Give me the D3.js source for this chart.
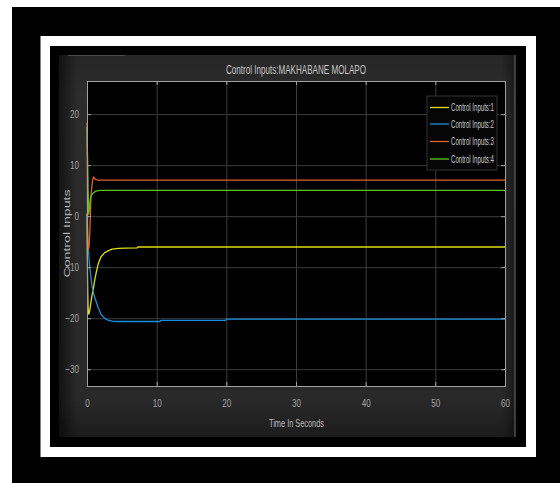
<!DOCTYPE html>
<html>
<head>
<meta charset="utf-8">
<script src="https://cdn.jsdelivr.net/npm/d3@7"></script>
<style>
  body { margin: 0; background: #fff; }
  text { font-family: "Liberation Sans Narrow", "Liberation Sans", Arial, sans-serif; }
</style>
</head>
<body>
<div id="chart"></div>
<script>
// time axis (seconds), shared by all four signals
const time = [0, 0.05, 0.1, 0.15, 0.2, 0.25, 0.3, 0.4, 0.5, 0.6, 0.7, 0.8, 0.95, 1.1, 1.3, 1.6,
  2, 2.5, 3, 3.6, 4.5, 5.5, 7.2, 7.3, 10.5, 10.6, 19.9, 20, 60];

const input1 = [0.5, -8, -14, -17.5, -18.9, -19.2, -19.1, -18.4, -17.5, -16.6, -15.7, -14.9, -13.9, -12.6,
  -11.2, -9.4, -8.0, -7.2, -6.8, -6.45, -6.3, -6.25, -6.22, -6.05, -6.05, -6.05, -6.05, -6.05, -6.05];
const input2 = [0, -1.8, -3.5, -5.1, -6.5, -7.6, -8.5, -10, -11.2, -12.4, -13.5, -14.3, -15.2, -15.9,
  -16.7, -17.9, -19.2, -20, -20.4, -20.6, -20.65, -20.65, -20.65, -20.65, -20.65, -20.45, -20.45, -20.2, -20.2];
const input3 = [18.3, 6, -3, -6.3, -6.5, -6.3, -6.0, -3.5, 1.0, 4.5, 5.9, 7.0, 7.7, 7.4, 7.15, 7.08,
  7.07, 7.07, 7.07, 7.07, 7.07, 7.07, 7.07, 7.07, 7.07, 7.07, 7.07, 7.07, 7.07];
const input4 = [17.5, 13, 10.5, 6, 2.2, 0.4, 0.9, 2.6, 3.6, 4.0, 4.3, 4.45, 4.6, 4.75, 4.9, 5.0,
  5.05, 5.06, 5.06, 5.06, 5.06, 5.06, 5.06, 5.06, 5.06, 5.06, 5.06, 5.06, 5.06];

const seriesNames = ["Control Inputs:1", "Control Inputs:2", "Control Inputs:3", "Control Inputs:4"];
const seriesColors = ["#dede10", "#1a8fe0", "#e0602a", "#5cc414"];
const xTicks = [0, 10, 20, 30, 40, 50, 60];
const yTicks = [-30, -20, -10, 0, 10, 20];

const width = 560, height = 483;
const margin = { top: 81, right: 55, bottom: 97, left: 87 };
const pw = width - margin.left - margin.right,
  ph = height - margin.top - margin.bottom;

const svg = d3.select("#chart").append("svg")
  .attr("width", width).attr("height", height);

// frames around the figure
svg.append("rect").attr("x", 12).attr("y", 7).attr("width", 548).attr("height", 476).attr("fill", "#000");
svg.append("rect").attr("x", 40.5).attr("y", 36).attr("width", 495.5).attr("height", 421).attr("fill", "#fff");
svg.append("rect").attr("x", 50).attr("y", 46).attr("width", 476).attr("height", 401).attr("fill", "#000");

const defs = svg.append("defs");
const gv = defs.append("linearGradient").attr("id", "figV").attr("x1", 0).attr("y1", 0).attr("x2", 0).attr("y2", 1);
gv.append("stop").attr("offset", "0%").attr("stop-color", "#262626");
gv.append("stop").attr("offset", "10%").attr("stop-color", "#2c2c2c");
gv.append("stop").attr("offset", "90%").attr("stop-color", "#292929");
gv.append("stop").attr("offset", "100%").attr("stop-color", "#1c1c1c");
const gh = defs.append("linearGradient").attr("id", "figH").attr("x1", 0).attr("y1", 0).attr("x2", 1).attr("y2", 0);
gh.append("stop").attr("offset", "0%").attr("stop-color", "#000").attr("stop-opacity", 0.55);
gh.append("stop").attr("offset", "4%").attr("stop-color", "#000").attr("stop-opacity", 0);
gh.append("stop").attr("offset", "97%").attr("stop-color", "#000").attr("stop-opacity", 0);
gh.append("stop").attr("offset", "100%").attr("stop-color", "#000").attr("stop-opacity", 0.4);

svg.append("rect").attr("x", 59).attr("y", 55).attr("width", 456.5).attr("height", 382).attr("fill", "url(#figV)");
svg.append("rect").attr("x", 59).attr("y", 55).attr("width", 456.5).attr("height", 382).attr("fill", "url(#figH)");
svg.append("line").attr("x1", 515).attr("x2", 515).attr("y1", 55).attr("y2", 437)
  .attr("stroke", "#6a6a6a").attr("stroke-width", 1);
svg.append("line").attr("x1", 68).attr("x2", 125).attr("y1", 55.5).attr("y2", 55.5)
  .attr("stroke", "#4a4a4a").attr("stroke-width", 1);

const g = svg.append("g").attr("transform", `translate(${margin.left},${margin.top})`);

const x = d3.scaleLinear().domain([0, 60]).range([0, pw]);
const y = d3.scaleLinear().domain([-33.3, 26.5]).range([ph, 0]);

g.append("rect").attr("width", pw).attr("height", ph).attr("fill", "#000");

// grid
g.append("g").attr("class", "grid").attr("transform", `translate(0,${ph})`)
  .call(d3.axisBottom(x).tickValues(xTicks).tickSize(-ph).tickFormat(""));
g.append("g").attr("class", "grid")
  .call(d3.axisLeft(y).tickValues(yTicks).tickSize(-pw).tickFormat(""));
g.selectAll(".grid .domain").remove();
g.selectAll(".grid line").attr("stroke", "#3c3c3c").attr("stroke-width", 1);

// lines
const line = d3.line()
  .x((d, i) => x(time[i]))
  .y(d => y(d));

[input1, input2, input3, input4].forEach((vals, k) => {
  g.append("path")
    .datum(vals)
    .attr("d", line)
    .attr("fill", "none")
    .attr("stroke", seriesColors[k])
    .attr("stroke-width", 1.3)
    .attr("stroke-linejoin", "round");
});

// box + inward ticks
const axColor = "#a0a0a0";
g.append("g").attr("transform", `translate(0,${ph})`)
  .call(d3.axisBottom(x).tickValues(xTicks).tickSize(-4).tickPadding(13));
g.append("g")
  .call(d3.axisLeft(y).tickValues(yTicks).tickSize(-4).tickPadding(8));
g.append("g").call(d3.axisTop(x).tickValues(xTicks).tickSize(-4).tickFormat(""));
g.append("g").attr("transform", `translate(${pw},0)`)
  .call(d3.axisRight(y).tickValues(yTicks).tickSize(-4).tickFormat(""));
g.selectAll(".domain").attr("stroke", axColor).attr("stroke-width", 1);
g.selectAll(".tick line").filter(function () { return !this.closest(".grid"); })
  .attr("stroke", axColor);

g.selectAll(".tick text")
  .attr("fill", "#a4a4a4")
  .style("font-size", "11.5px")
  .each(function () {
    const w = this.getComputedTextLength();
    d3.select(this).attr("textLength", w * 0.7).attr("lengthAdjust", "spacingAndGlyphs");
  });

// title & labels
svg.append("text")
  .attr("x", 296).attr("y", 74)
  .attr("text-anchor", "middle")
  .attr("fill", "#c4c4c4")
  .style("font-size", "13px")
  .attr("textLength", 140).attr("lengthAdjust", "spacingAndGlyphs")
  .text("Control Inputs:MAKHABANE MOLAPO");

svg.append("text")
  .attr("x", 296.5).attr("y", 427)
  .attr("text-anchor", "middle")
  .attr("fill", "#bcbcbc")
  .style("font-size", "11.5px")
  .attr("textLength", 55).attr("lengthAdjust", "spacingAndGlyphs")
  .text("Time In Seconds");

svg.append("text")
  .attr("transform", "translate(70,233.5) scale(0.72,1) rotate(-90)")
  .attr("text-anchor", "middle")
  .attr("fill", "#b0b0b0")
  .style("font-size", "11.5px")
  .style("font-family", "'Liberation Sans', Arial, sans-serif")
  .attr("textLength", 88).attr("lengthAdjust", "spacingAndGlyphs")
  .text("Control Inputs");

// legend
const lg = svg.append("g").attr("transform", "translate(427,96)");
lg.append("rect").attr("width", 70).attr("height", 74)
  .attr("fill", "#060606").attr("stroke", "#333").attr("stroke-width", 1);
const rowY = [11.5, 28, 45.5, 63];
seriesNames.forEach((name, k) => {
  lg.append("line").attr("x1", 3).attr("x2", 22).attr("y1", rowY[k]).attr("y2", rowY[k])
    .attr("stroke", seriesColors[k]).attr("stroke-width", 1.3);
  lg.append("text").attr("x", 24).attr("y", rowY[k] + 3.8)
    .attr("fill", "#c8c8c8")
    .style("font-size", "11px")
    .attr("textLength", 43).attr("lengthAdjust", "spacingAndGlyphs")
    .text(name);
});
</script>
</body>
</html>
